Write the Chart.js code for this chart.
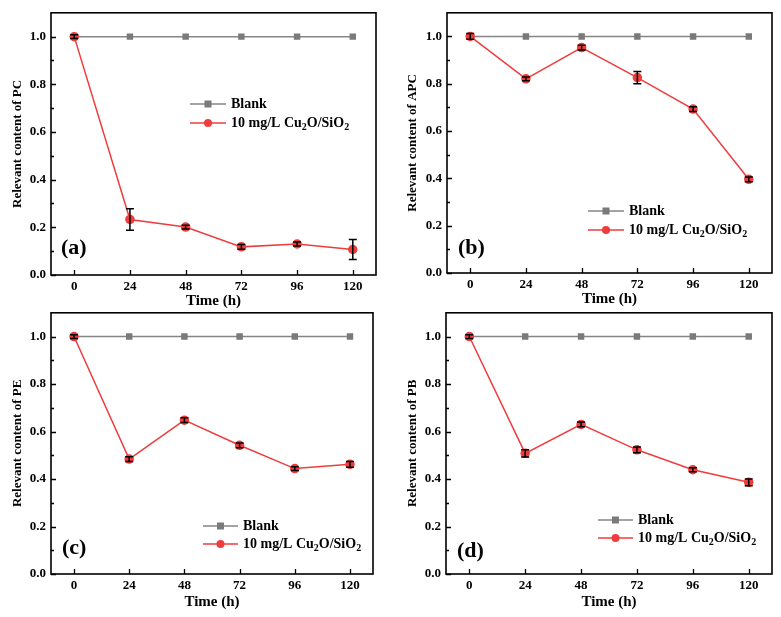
<!DOCTYPE html>
<html><head><meta charset="utf-8">
<script src="https://cdn.jsdelivr.net/npm/chart.js@4/dist/chart.umd.min.js"></script>
<style>
html,body{margin:0;padding:0;background:#fff;width:781px;height:617px;overflow:hidden;}
.p{position:absolute;}
</style></head><body>
<div class="p" style="left:0px;top:0px;"><canvas id="ca" width="390" height="310"></canvas></div>
<div class="p" style="left:390px;top:0px;"><canvas id="cb" width="391" height="308"></canvas></div>
<div class="p" style="left:0px;top:300px;"><canvas id="cc" width="390" height="311"></canvas></div>
<div class="p" style="left:390px;top:300px;"><canvas id="cd" width="391" height="311"></canvas></div>
<script>
// ---- data ----
const hours = [0, 24, 48, 72, 96, 120];
const xTickLabels = [0, 24, 48, 72, 96, 120];
const yTickValues = [0, 0.1, 0.2, 0.3, 0.4, 0.5, 0.6, 0.7, 0.8, 0.9, 1.0];
const blankLabel = 'Blank';
const sampleLabel = '10 mg/L Cu₂O/SiO₂';
const xTitle = 'Time (h)';
const blankValues = [1, 1, 1, 1, 1, 1];

const pcValues  = [1.000, 0.233, 0.201, 0.118, 0.130, 0.107];
const pcErrors  = [0.008, 0.045, 0.008, 0.010, 0.008, 0.042];
const apcValues = [1.000, 0.821, 0.953, 0.826, 0.693, 0.396];
const apcErrors = [0.012, 0.008, 0.010, 0.026, 0.010, 0.010];
const peValues  = [1.000, 0.484, 0.648, 0.542, 0.444, 0.462];
const peErrors  = [0.008, 0.010, 0.010, 0.010, 0.008, 0.012];
const pbValues  = [1.000, 0.508, 0.630, 0.523, 0.439, 0.386];
const pbErrors  = [0.008, 0.015, 0.010, 0.012, 0.008, 0.014];

const FONT = "'Liberation Serif', 'Times New Roman', serif";

const deco = {
  id: 'deco',
  afterDatasetsDraw(chart, args, o) {
    const ctx = chart.ctx, ca = chart.chartArea;
    const xs = chart.scales.x, ys = chart.scales.y;
    ctx.save();
    // error bars
    const ds = chart.data.datasets[1];
    const meta = chart.getDatasetMeta(1);
    ctx.strokeStyle = '#000'; ctx.lineWidth = 1.5;
    meta.data.forEach((pt, i) => {
      const v = ds.data[i].y, e = ds.errors[i];
      const y1 = ys.getPixelForValue(v + e), y2 = ys.getPixelForValue(v - e);
      const x = pt.x;
      ctx.beginPath();
      ctx.moveTo(x, y1); ctx.lineTo(x, y2);
      ctx.moveTo(x - 4, y1); ctx.lineTo(x + 4, y1);
      ctx.moveTo(x - 4, y2); ctx.lineTo(x + 4, y2);
      ctx.stroke();
    });
    // frame
    ctx.lineWidth = 1.6; ctx.strokeStyle = '#000';
    ctx.strokeRect(ca.left, ca.top, ca.right - ca.left, ca.bottom - ca.top);
    // inward ticks
    ctx.lineWidth = 1.3;
    ctx.beginPath();
    yTickValues.forEach(v => {
      const py = Math.round(ys.getPixelForValue(v)) + 0.5;
      const major = Math.round(v * 10) % 2 === 0;
      ctx.moveTo(ca.left, py); ctx.lineTo(ca.left + (major ? 5 : 3), py);
    });
    xTickLabels.forEach(v => {
      const px = Math.round(xs.getPixelForValue(v)) + 0.5;
      ctx.moveTo(px, ca.bottom); ctx.lineTo(px, ca.bottom - 5);
    });
    ctx.stroke();
    // panel label
    ctx.fillStyle = '#000';
    ctx.font = "bold 22px " + FONT;
    ctx.textBaseline = 'middle'; ctx.textAlign = 'left';
    ctx.fillText(o.tag, o.tagX, o.tagY);
    // legend
    const rows = [
      {ds: chart.data.datasets[0], y: o.legY[0]},
      {ds: chart.data.datasets[1], y: o.legY[1]}
    ];
    rows.forEach((r, k) => {
      const d = r.ds;
      ctx.strokeStyle = d.borderColor; ctx.lineWidth = 1.5;
      ctx.beginPath(); ctx.moveTo(o.legX, r.y); ctx.lineTo(o.legX + o.legLen, r.y); ctx.stroke();
      const mx = o.legX + o.legLen / 2;
      ctx.fillStyle = d.backgroundColor;
      if (k === 0) { ctx.fillRect(mx - 3.5, r.y - 3.5, 7, 7); }
      else { ctx.beginPath(); ctx.arc(mx, r.y, 4, 0, Math.PI * 2); ctx.fill(); }
      // text with subscripts
      ctx.fillStyle = '#000';
      let x = o.legX + o.legLen + 5;
      const parts = d.label.split(/(₂)/);
      parts.forEach(p => {
        if (!p) return;
        if (p === '₂') {
          ctx.font = "bold 10px " + FONT;
          ctx.fillText('2', x, r.y + 4);
          x += ctx.measureText('2').width;
        } else {
          ctx.font = "bold 14px " + FONT;
          ctx.fillText(p, x, r.y);
          x += ctx.measureText(p).width;
        }
      });
    });
    ctx.restore();
  }
};

function makeChart(id, cfg) {
  const toPts = arr => hours.map((h, i) => ({x: h, y: arr[i]}));
  new Chart(document.getElementById(id), {
    type: 'line',
    data: {
      datasets: [
        {label: blankLabel, data: toPts(blankValues), borderColor: '#858585', backgroundColor: '#7a7a7a',
         pointBorderColor: '#7a7a7a', pointStyle: 'rect', pointRadius: 3.5, borderWidth: 1.5, order: 1},
        {label: sampleLabel, data: toPts(cfg.values), errors: cfg.errors, borderColor: '#f03c3c',
         backgroundColor: '#f03c3c', pointBorderColor: '#f03c3c', pointStyle: 'circle', pointRadius: 4,
         borderWidth: 1.5, order: 0}
      ]
    },
    options: {
      responsive: false, animation: false,
      layout: {padding: {top: cfg.padTop, right: cfg.padRight, left: 0, bottom: 0}},
      plugins: {
        legend: {display: false}, tooltip: {enabled: false},
        deco: cfg.deco
      },
      scales: {
        x: {
          type: 'linear', min: -10, max: 130,
          afterBuildTicks: s => { s.ticks = xTickLabels.map(v => ({value: v})); },
          afterFit: s => { s.height = cfg.xHeight; },
          grid: {display: false, drawTicks: false}, border: {display: false},
          ticks: {color: '#000', padding: 4, autoSkip: false, maxRotation: 0,
                  font: {family: FONT, size: 13, weight: 'bold'}, callback: v => String(v)},
          title: {display: true, text: xTitle, color: '#000', padding: 0,
                  font: {family: FONT, size: 15, weight: 'bold'}}
        },
        y: {
          type: 'linear', min: 0, max: 1.1,
          afterBuildTicks: s => { s.ticks = yTickValues.map(v => ({value: v})); },
          afterFit: s => { s.width = cfg.yWidth; },
          grid: {display: false, drawTicks: false}, border: {display: false},
          ticks: {color: '#000', padding: 5, autoSkip: false,
                  font: {family: FONT, size: 13, weight: 'bold'},
                  callback: v => { const t = Math.round(v * 10); return t % 2 === 0 ? (t / 10).toFixed(1) : ''; }},
          title: {display: true, text: cfg.yTitle, color: '#000', padding: {top: cfg.yTitlePad, bottom: 0},
                  font: {family: FONT, size: 13, weight: 'bold'}}
        }
      }
    },
    plugins: [deco]
  });
}

makeChart('ca', {values: pcValues, errors: pcErrors, yTitle: 'Relevant content of PC',
  padTop: 11, padRight: 14, xHeight: 35, yWidth: 51, yTitlePad: 10,
  deco: {tag: '(a)', tagX: 61, tagY: 248, legX: 190, legLen: 36, legY: [104, 123]}});
makeChart('cb', {values: apcValues, errors: apcErrors, yTitle: 'Relevant content of APC',
  padTop: 10, padRight: 9, xHeight: 35, yWidth: 57, yTitlePad: 15,
  deco: {tag: '(b)', tagX: 68, tagY: 248, legX: 198, legLen: 36, legY: [211, 230]}});
makeChart('cc', {values: peValues, errors: peErrors, yTitle: 'Relevant content of PE',
  padTop: 12, padRight: 17, xHeight: 37, yWidth: 51, yTitlePad: 10,
  deco: {tag: '(c)', tagX: 62, tagY: 248, legX: 203, legLen: 35, legY: [226, 244]}});
makeChart('cd', {values: pbValues, errors: pbErrors, yTitle: 'Relevant content of PB',
  padTop: 10, padRight: 9, xHeight: 37, yWidth: 56, yTitlePad: 15,
  deco: {tag: '(d)', tagX: 67, tagY: 251, legX: 208, legLen: 35, legY: [220, 238]}});
</script>
</body></html>
